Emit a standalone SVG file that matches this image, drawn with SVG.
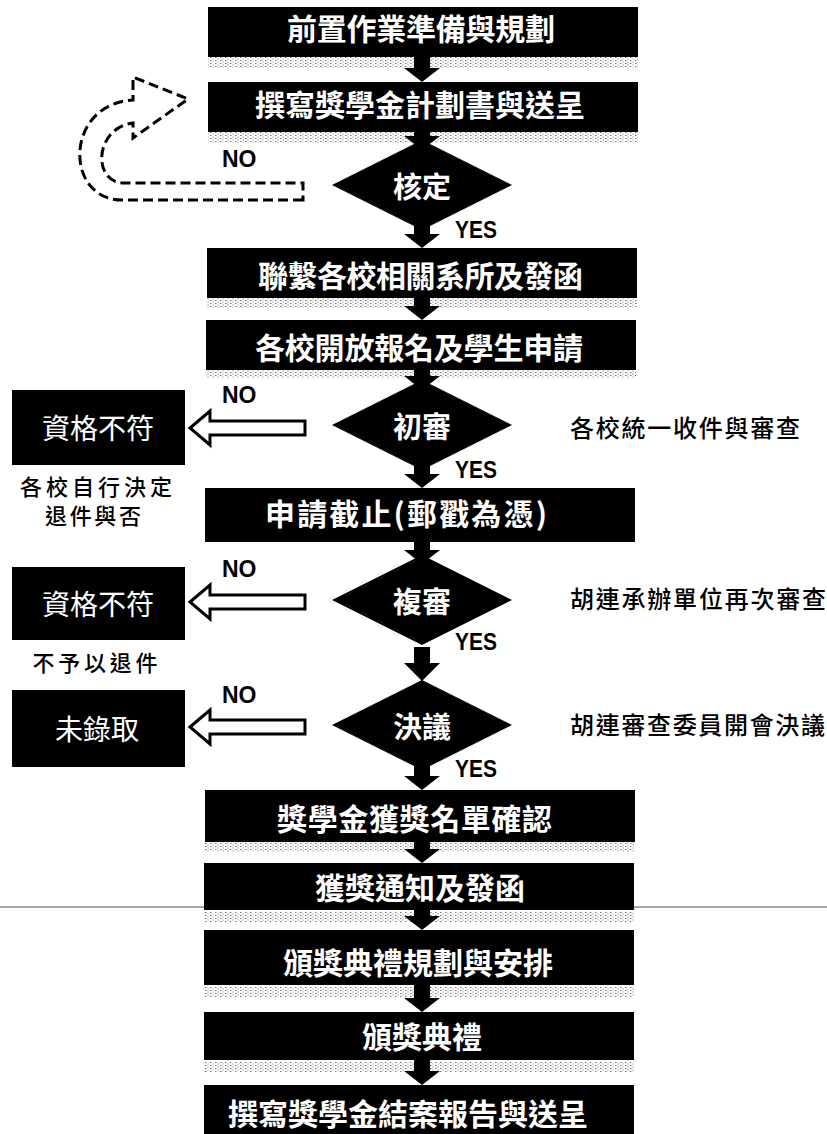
<svg xmlns="http://www.w3.org/2000/svg" width="827" height="1134" viewBox="0 0 827 1134">
<defs>
<pattern id="speck" width="5" height="3" patternUnits="userSpaceOnUse">
<rect x="0" y="0" width="1.5" height="1" fill="#000"/>
<rect x="2.5" y="1.5" width="1" height="1" fill="#000"/>
</pattern>
</defs>
<style>
.box{fill:#000}
.band{fill:url(#speck);opacity:0.55}
.bt{fill:#fff;font-family:"Noto Sans CJK TC","Noto Sans CJK SC",sans-serif;font-size:30px;font-weight:bold;dominant-baseline:central}
.dt{fill:#fff;font-family:"Noto Sans CJK TC","Noto Sans CJK SC",sans-serif;font-size:29px;font-weight:bold;dominant-baseline:central;text-anchor:middle}
.rt{fill:#fff;font-family:"Noto Sans CJK TC","Noto Sans CJK SC",sans-serif;font-size:28px;dominant-baseline:central;text-anchor:middle}
.nt{fill:#000;font-family:"Noto Sans CJK TC","Noto Sans CJK SC",sans-serif;font-size:24px;font-weight:500;dominant-baseline:central}
.ct{fill:#000;font-family:"Noto Sans CJK TC","Noto Sans CJK SC",sans-serif;font-size:22px;font-weight:500;dominant-baseline:central;text-anchor:middle}
.no{fill:#000;font-family:"Liberation Sans",Arial,sans-serif;font-size:23px;font-weight:bold}
.yes{fill:#000;font-family:"Liberation Sans",Arial,sans-serif;font-size:23px;font-weight:bold}
.dn{fill:#000}
.hol{fill:#fff;stroke:#000;stroke-width:3;stroke-linejoin:miter}
.dash{fill:none;stroke:#000;stroke-width:3;stroke-dasharray:10 5}
</style>
<rect width="827" height="1134" fill="#fff"/>
<line x1="0" y1="907" x2="827" y2="907" stroke="#888" stroke-width="1.5"/>

<g id="connectors">
<polygon class="dn" points="414,57 430,57 430,68 440,68 422,82 404,68 414,68"/>
<polygon class="dn" points="414,132 430,132 430,136 440,136 422,150 404,136 414,136"/>
<polygon class="dn" points="414,226 430,226 430,234 440,234 422,248 404,234 414,234"/>
<polygon class="dn" points="414,298 430,298 430,306 440,306 422,320 404,306 414,306"/>
<polygon class="dn" points="414,370 430,370 430,376 440,376 422,390 404,376 414,376"/>
<polygon class="dn" points="414,466 430,466 430,474 440,474 422,488 404,474 414,474"/>
<polygon class="dn" points="414,542 430,542 430,550 440,550 422,564 404,550 414,550"/>
<polygon class="dn" points="414,647 430,647 430,663 440,663 422,681 404,663 414,663"/>
<polygon class="dn" points="414,766 430,766 430,776 440,776 422,790 404,776 414,776"/>
<polygon class="dn" points="414,842 430,842 430,849 440,849 422,863 404,849 414,849"/>
<polygon class="dn" points="414,910 430,910 430,916 440,916 422,930 404,916 414,916"/>
<polygon class="dn" points="414,985 430,985 430,998 440,998 422,1012 404,998 414,998"/>
<polygon class="dn" points="414,1060 430,1060 430,1071 440,1071 422,1085 404,1071 414,1071"/>
<polygon class="hol" points="190,428 210,411 210,421 305,421 305,435 210,435 210,445"/>
<polygon class="hol" points="190,602 210,585 210,595 305,595 305,609 210,609 210,619"/>
<polygon class="hol" points="190,727 210,710 210,720 305,720 305,734 210,734 210,744"/>
<path class="dash" d="M303 200 L122 200 C64 200 64 104 133 100 L133 77 L188 99 L133 138 L133 123 C94 128 92 183 124 183 L303 183 Z"/>
</g>

<g id="n1"><rect class="box" x="208" y="7" width="430" height="50"/><rect class="band" x="208" y="57" width="430" height="11"/><text class="bt" x="287" y="27" textLength="268">前置作業準備與規劃</text></g>
<g id="n2"><rect class="box" x="208" y="82" width="430" height="50"/><rect class="band" x="208" y="132" width="430" height="11"/><text class="bt" x="255" y="103" textLength="330">撰寫獎學金計劃書與送呈</text></g>
<g id="d1"><polygon class="box" points="422,140 512,185 422,230 332,185"/><text class="dt" x="422" y="185">核定</text></g>
<g id="n3"><rect class="box" x="207" y="248" width="430" height="50"/><rect class="band" x="207" y="298" width="430" height="10"/><text class="bt" x="258" y="274" textLength="325">聯繫各校相關系所及發函</text></g>
<g id="n4"><rect class="box" x="206" y="320" width="430" height="50"/><rect class="band" x="206" y="370" width="430" height="8"/><text class="bt" x="255" y="346" textLength="328">各校開放報名及學生申請</text></g>
<g id="d2"><polygon class="box" points="422,380 512,425 422,470 332,425"/><text class="dt" x="422" y="425">初審</text></g>
<g id="n5"><rect class="box" x="205" y="488" width="430" height="54"/><text class="bt" x="265" y="512" textLength="282">申請截止(郵戳為憑)</text></g>
<g id="d3"><polygon class="box" points="422,555 512,600 422,645 332,600"/><text class="dt" x="422" y="600">複審</text></g>
<g id="d4"><polygon class="box" points="422,680 512,725 422,770 332,725"/><text class="dt" x="422" y="725">決議</text></g>
<g id="n6"><rect class="box" x="205" y="790" width="430" height="52"/><rect class="band" x="205" y="842" width="430" height="10"/><text class="bt" x="277" y="817" textLength="275">獎學金獲獎名單確認</text></g>
<g id="n7"><rect class="box" x="204" y="863" width="430" height="47"/><rect class="band" x="204" y="912" width="430" height="10"/><text class="bt" x="315" y="886" textLength="210">獲獎通知及發函</text></g>
<g id="n8"><rect class="box" x="204" y="930" width="430" height="55"/><rect class="band" x="204" y="930" width="430" height="8"/><rect class="band" x="204" y="987" width="430" height="10"/><text class="bt" x="283" y="961" textLength="270">頒獎典禮規劃與安排</text></g>
<g id="n9"><rect class="box" x="204" y="1012" width="430" height="48"/><rect class="band" x="204" y="1062" width="430" height="10"/><text class="bt" x="362" y="1035" textLength="120">頒獎典禮</text></g>
<g id="n10"><rect class="box" x="204" y="1085" width="430" height="49"/><text class="bt" x="228" y="1112" textLength="360">撰寫獎學金結案報告與送呈</text></g>

<g id="r1"><rect class="box" x="12" y="390" width="173" height="75"/><text class="rt" x="98" y="427">資格不符</text></g>
<g id="r2"><rect class="box" x="12" y="567" width="173" height="73"/><text class="rt" x="98" y="603">資格不符</text></g>
<g id="r3"><rect class="box" x="12" y="690" width="173" height="77"/><text class="rt" x="97" y="728">未錄取</text></g>

<g id="labels">
<text class="no" x="222" y="167">NO</text>
<text class="no" x="222" y="403">NO</text>
<text class="no" x="222" y="577">NO</text>
<text class="no" x="222" y="703">NO</text>
<text class="yes" x="455" y="238" textLength="42" lengthAdjust="spacingAndGlyphs">YES</text>
<text class="yes" x="455" y="478" textLength="42" lengthAdjust="spacingAndGlyphs">YES</text>
<text class="yes" x="455" y="650" textLength="42" lengthAdjust="spacingAndGlyphs">YES</text>
<text class="yes" x="455" y="777" textLength="42" lengthAdjust="spacingAndGlyphs">YES</text>
<text class="nt" x="570" y="426" textLength="230">各校統一收件與審查</text>
<text class="nt" x="570" y="597" textLength="256">胡連承辦單位再次審查</text>
<text class="nt" x="570" y="723" textLength="255">胡連審查委員開會決議</text>
<text class="ct" x="96" y="485" textLength="152">各校自行決定</text>
<text class="ct" x="93" y="514" textLength="96">退件與否</text>
<text class="ct" x="95" y="661" textLength="125">不予以退件</text>
</g>
</svg>
